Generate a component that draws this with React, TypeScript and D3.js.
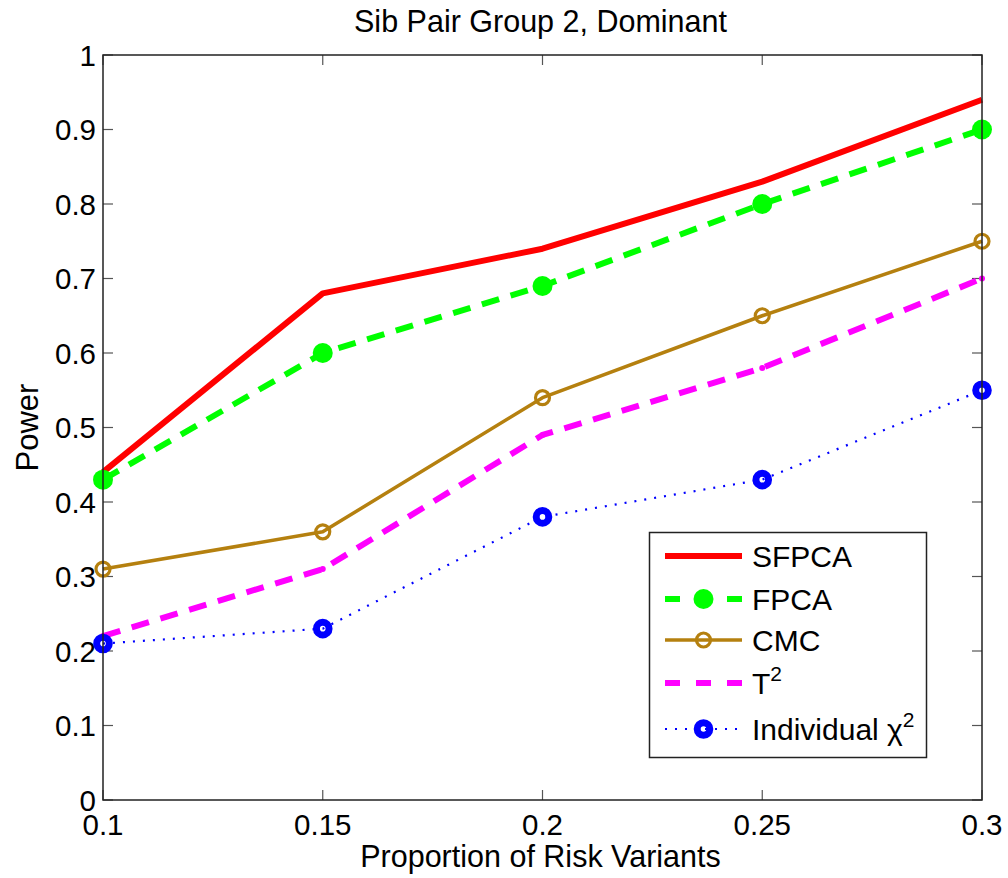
import * as d3 from 'd3';
import React, { useEffect, useRef } from 'react';

const xValues = [0.1, 0.15, 0.2, 0.25, 0.3];
const sfpca = [0.44, 0.68, 0.74, 0.83, 0.94];
const fpca = [0.43, 0.60, 0.69, 0.80, 0.90];
const cmc = [0.31, 0.36, 0.54, 0.65, 0.75];
const tSquare = [0.22, 0.31, 0.49, 0.58, 0.70];
const individual = [0.21, 0.23, 0.38, 0.43, 0.55];
const xTicks = [0.1, 0.15, 0.2, 0.25, 0.3];
const yTicks = [0, 0.1, 0.2, 0.3, 0.4, 0.5, 0.6, 0.7, 0.8, 0.9, 1];

const FONT = '"Liberation Sans", Arial, sans-serif';

type Series = {
    name: string;
    sup?: string;
    values: number[];
    color: string;
    width: number;
    dash: string | null;
    marker: 'none' | 'filled' | 'open' | 'thick' | 'dot';
};

const series: Series[] = [
    { name: 'SFPCA', values: sfpca, color: '#ff0000', width: 6, dash: null, marker: 'none' },
    { name: 'FPCA', values: fpca, color: '#00ff00', width: 6, dash: '18 12', marker: 'filled' },
    { name: 'CMC', values: cmc, color: '#b5800f', width: 3.5, dash: null, marker: 'open' },
    { name: 'T', sup: '2', values: tSquare, color: '#ff00ff', width: 6, dash: '18 12', marker: 'dot' },
    { name: 'Individual \u03c7', sup: '2', values: individual, color: '#0000ff', width: 2.2, dash: '2 8', marker: 'thick' },
];

const App = () => {
    const ref = useRef<SVGSVGElement>(null);
    const W = 1008, H = 878;
    const margin = { top: 55, right: 26, bottom: 78, left: 103 };
    const width = W - margin.left - margin.right;
    const height = H - margin.top - margin.bottom;

    useEffect(() => {
        const svg = d3.select(ref.current);
        svg.selectAll('*').remove();

        const x = d3.scaleLinear().domain([0.1, 0.3]).range([0, width]);
        const y = d3.scaleLinear().domain([0, 1]).range([height, 0]);

        const g = svg.append('g').attr('transform', `translate(${margin.left},${margin.top})`);

        // ticks inside the box, all four sides
        const tickLen = 10;
        xTicks.forEach((t) => {
            g.append('line').attr('x1', x(t)).attr('x2', x(t)).attr('y1', height).attr('y2', height - tickLen)
                .attr('stroke', '#555').attr('stroke-width', 1.2);
            g.append('line').attr('x1', x(t)).attr('x2', x(t)).attr('y1', 0).attr('y2', tickLen)
                .attr('stroke', '#555').attr('stroke-width', 1.2);
            g.append('text').attr('x', x(t)).attr('y', height + 35)
                .attr('text-anchor', 'middle').attr('font-family', FONT).attr('font-size', 29.5)
                .text(String(t));
        });
        yTicks.forEach((t) => {
            g.append('line').attr('x1', 0).attr('x2', tickLen).attr('y1', y(t)).attr('y2', y(t))
                .attr('stroke', '#555').attr('stroke-width', 1.2);
            g.append('line').attr('x1', width).attr('x2', width - tickLen).attr('y1', y(t)).attr('y2', y(t))
                .attr('stroke', '#555').attr('stroke-width', 1.2);
            g.append('text').attr('x', -7).attr('y', y(t)).attr('dy', '0.36em')
                .attr('text-anchor', 'end').attr('font-family', FONT).attr('font-size', 29.5)
                .text(String(t));
        });

        const drawMarker = (sel: any, s: Series, cx: number, cy: number) => {
            if (s.marker === 'filled') {
                sel.append('circle').attr('cx', cx).attr('cy', cy).attr('r', 10).attr('fill', s.color);
            } else if (s.marker === 'open') {
                sel.append('circle').attr('cx', cx).attr('cy', cy).attr('r', 7).attr('fill', 'none')
                    .attr('stroke', s.color).attr('stroke-width', 3.2);
            } else if (s.marker === 'thick') {
                sel.append('circle').attr('cx', cx).attr('cy', cy).attr('r', 6.3).attr('fill', 'none')
                    .attr('stroke', s.color).attr('stroke-width', 7);
            } else if (s.marker === 'dot') {
                sel.append('circle').attr('cx', cx).attr('cy', cy).attr('r', 3).attr('fill', s.color);
            }
        };

        const line = d3.line<number>()
            .x((d, i) => x(xValues[i]))
            .y((d) => y(d));

        series.forEach((s) => {
            g.append('path').datum(s.values)
                .attr('d', line)
                .attr('fill', 'none')
                .attr('stroke', s.color)
                .attr('stroke-width', s.width)
                .attr('stroke-dasharray', s.dash)
                .attr('stroke-linejoin', 'round');
            s.values.forEach((v, i) => drawMarker(g, s, x(xValues[i]), y(v)));
        });

        // box
        g.append('rect').attr('x', 0).attr('y', 0).attr('width', width).attr('height', height)
            .attr('fill', 'none').attr('stroke', '#222').attr('stroke-width', 1.5);

        // title and labels
        svg.append('text').attr('x', margin.left + width / 2 - 2).attr('y', 32)
            .attr('text-anchor', 'middle').attr('font-family', FONT).attr('font-size', 30.5)
            .text('Sib Pair Group 2, Dominant');
        svg.append('text').attr('x', margin.left + width / 2 - 2).attr('y', 867)
            .attr('text-anchor', 'middle').attr('font-family', FONT).attr('font-size', 30.5)
            .text('Proportion of Risk Variants');
        svg.append('text')
            .attr('transform', `translate(38,${margin.top + height / 2}) rotate(-90)`)
            .attr('text-anchor', 'middle').attr('font-family', FONT).attr('font-size', 31)
            .text('Power');

        // legend
        const lg = svg.append('g');
        lg.append('rect').attr('x', 649.5).attr('y', 532.5).attr('width', 277).attr('height', 225)
            .attr('fill', '#fff').attr('stroke', '#222').attr('stroke-width', 1.5);
        const rowY = [556, 599, 640, 683, 729];
        series.forEach((s, i) => {
            const yy = rowY[i];
            lg.append('line').attr('x1', 665).attr('x2', 742).attr('y1', yy).attr('y2', yy)
                .attr('stroke', s.color).attr('stroke-width', s.width)
                .attr('stroke-dasharray', s.dash ? (s.marker === 'thick' ? '2 8' : '15 16') : null);
            if (s.marker !== 'dot') drawMarker(lg, s, 703.5, yy);
            const t = lg.append('text').attr('x', 752).attr('y', yy).attr('dy', '0.36em')
                .attr('font-family', FONT).attr('font-size', 30).text(s.name);
            if (s.sup) {
                t.append('tspan').attr('dy', -13).attr('font-size', 21).text(s.sup);
            }
        });
    }, []);

    return (
        <div>
            <svg ref={ref} width={W} height={H} style={{ display: 'block', position: 'absolute', left: 0, top: 0, background: '#fff' }}>
            </svg>
        </div>
    );
};

export default App;
